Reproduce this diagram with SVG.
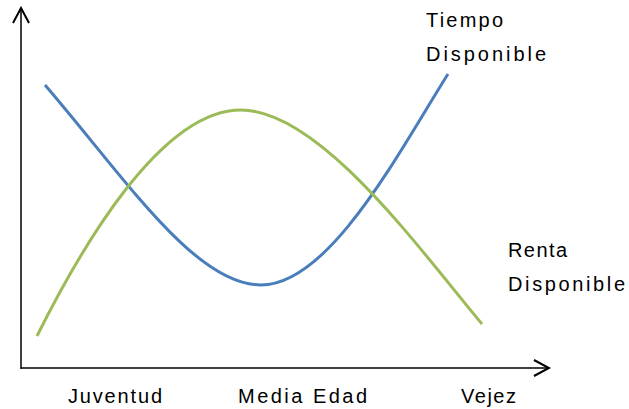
<svg xmlns="http://www.w3.org/2000/svg" width="629" height="409" viewBox="0 0 629 409">
<style>
.axis{stroke:#000;stroke-width:1.5;fill:none}
.lbl{font-family:"Liberation Sans","Noto Sans",sans-serif;font-size:20px;fill:#000}
.curve{fill:none;stroke-width:3;stroke-linecap:butt}
</style>
<defs>
<marker id="chev" viewBox="0 0 20 20" refX="18" refY="10" markerWidth="20" markerHeight="20" markerUnits="userSpaceOnUse" orient="auto">
<path d="M3,2 L18,10 L3,18" fill="none" stroke="#000" stroke-width="2"/>
</marker>
</defs>
<rect width="629" height="409" fill="#fff"/>
<g id="connectors">
<path class="axis" d="M21,369 L21,8" marker-end="url(#chev)"/>
<path class="axis" d="M21,368 L549,368" marker-end="url(#chev)"/>
<path id="tiempo-curve" class="curve" stroke="#4a7ebb" d="M45,85 C125,178 195,285 261,285 C330,285 400,150 448,74"/>
<path id="renta-curve" class="curve" stroke="#9bbb59" d="M37,336 C80,250 160,110 241,110 C320,110 420,250 482,324"/>
</g>
<g id="label-tiempo"><text class="lbl" x="426" y="27" textLength="77" lengthAdjust="spacing">Tiempo</text><text class="lbl" x="426" y="61" textLength="120" lengthAdjust="spacing">Disponible</text></g>
<g id="label-renta"><text class="lbl" x="508" y="257" textLength="59" lengthAdjust="spacing">Renta</text><text class="lbl" x="508" y="291" textLength="117" lengthAdjust="spacing">Disponible</text></g>
<g id="label-juventud"><text class="lbl" x="68" y="403" textLength="94" lengthAdjust="spacing">Juventud</text></g>
<g id="label-media"><text class="lbl" x="238" y="403" textLength="129" lengthAdjust="spacing">Media Edad</text></g>
<g id="label-vejez"><text class="lbl" x="461" y="403" textLength="55" lengthAdjust="spacing">Vejez</text></g>
</svg>
